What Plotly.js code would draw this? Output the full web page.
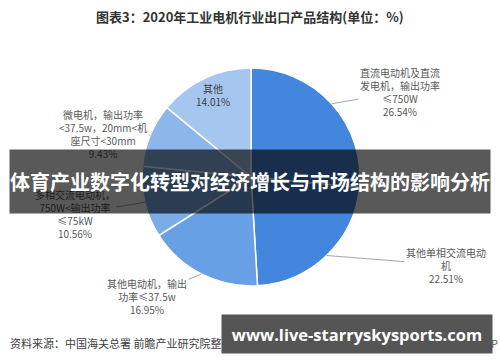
<!DOCTYPE html>
<html><head><meta charset="utf-8">
<script src="https://cdn.plot.ly/plotly-3.0.1.min.js"></script>
<style>html,body{margin:0;padding:0;background:#fff}#chart{width:500px;height:362px}</style>
</head><body><div id="chart"></div>
<script>
// Data
const categories = [
  "直流电动机及直流<br>发电机，输出功率<br>≤750W",
  "其他单相交流电动<br>机",
  "其他电动机，输出<br>功率≤37.5w",
  "多相交流电动机，<br>750W<输出功率<br>≤75kW",
  "微电机，输出功率<br><37.5w，20mm<机<br>座尺寸<30mm",
  "其他"
];
const values = [26.54, 22.51, 16.95, 10.56, 9.43, 14.01];
const colors = ["#4386DD", "#4386DD", "#67A0E5", "#7AACE8", "#8DB7EB", "#A5C6EF"];
const titleText = "图表3：2020年工业电机行业出口产品结构(单位：%)";
const bannerText = "体育产业数字化转型对经济增长与市场结构的影响分析";
const sourceText = "资料来源：中国海关总署 前瞻产业研究院整理";
const creditText = "@前瞻经济学人APP";
const siteText = "www.live-starryskysports.com";

// Layout helpers (pixels -> paper, margins 0)
const W = 500, H = 362;
const px = x => x / W, py = y => 1 - y / H;
const cx = 251, cy = 177, R = 109;
const labelPos = [[400, 92], [446, 265], [147, 296], [75, 214], [103, 134], [213, 95]];
const inside = [false, false, false, false, false, true];

const total = values.reduce((a, b) => a + b, 0);
let cum = 0;
const annotations = [];
const base = {xref: "paper", yref: "paper", xanchor: "center", yanchor: "middle"};
values.forEach((v, i) => {
  const mid = (cum + v / 2) / total * 2 * Math.PI;
  cum += v;
  const ex = cx + R * Math.sin(mid), ey = cy - R * Math.cos(mid);
  const txt = categories[i] + "<br>" + v.toFixed(2) + "%";
  const [lx, ly] = labelPos[i];
  if (inside[i]) {
    annotations.push(Object.assign({}, base, {x: px(lx), y: py(ly), text: txt,
      showarrow: false, font: {size: 10, color: "#404040", family: "Noto Sans CJK SC"}, align: "center"}));
  } else {
    annotations.push(Object.assign({}, base, {x: px(ex), y: py(ey), ax: lx - ex, ay: ly - ey,
      axref: "pixel", ayref: "pixel", text: txt, showarrow: true, arrowhead: 0, arrowwidth: 1,
      arrowcolor: "#A6A6A6", standoff: 0, startstandoff: 0,
      font: {size: 10, color: "#595959", family: "Noto Sans CJK SC"}, align: "center"}));
  }
});
annotations.push(Object.assign({}, base, {x: px(8), y: py(343), xanchor: "left", text: sourceText,
  showarrow: false, font: {size: 11, color: "#404040", family: "Noto Sans CJK SC"}}));
annotations.push(Object.assign({}, base, {x: px(500), y: py(343), xanchor: "right", text: creditText,
  showarrow: false, font: {size: 11, color: "#595959", family: "Noto Sans CJK SC"}}));
annotations.push(Object.assign({}, base, {x: px(250), y: py(181.5), text: "<b>" + bannerText + "</b>",
  showarrow: false, width: 480, height: 63, borderpad: 0, bgcolor: "rgba(0,0,0,0.65)",
  font: {size: 20, color: "#ffffff", family: "Noto Sans CJK SC"}}));
annotations.push(Object.assign({}, base, {x: px(357), y: py(334), text: "<b>" + siteText + "</b>",
  showarrow: false, width: 270, height: 38, borderpad: 0, bgcolor: "#555555",
  font: {size: 16.5, color: "#ffffff", family: "Open Sans"}}));
annotations.push(Object.assign({}, base, {x: px(250), y: py(16), text: "<b>" + titleText + "</b>",
  showarrow: false, font: {size: 13, color: "#333333", family: "Noto Sans CJK SC"}}));

const trace = {
  type: "pie", values: values, labels: categories, sort: false, direction: "clockwise", rotation: 0,
  marker: {colors: colors, line: {color: "#ffffff", width: 1.5}},
  textinfo: "none", hoverinfo: "none", showlegend: false,
  domain: {x: [px(cx - R), px(cx + R)], y: [py(cy + R), py(cy - R)]}
};
Plotly.newPlot("chart", [trace], {
  width: W, height: H, margin: {l: 0, r: 0, t: 0, b: 0},
  paper_bgcolor: "#ffffff", plot_bgcolor: "#ffffff", showlegend: false,
  annotations: annotations
}, {staticPlot: true});
</script></body></html>
